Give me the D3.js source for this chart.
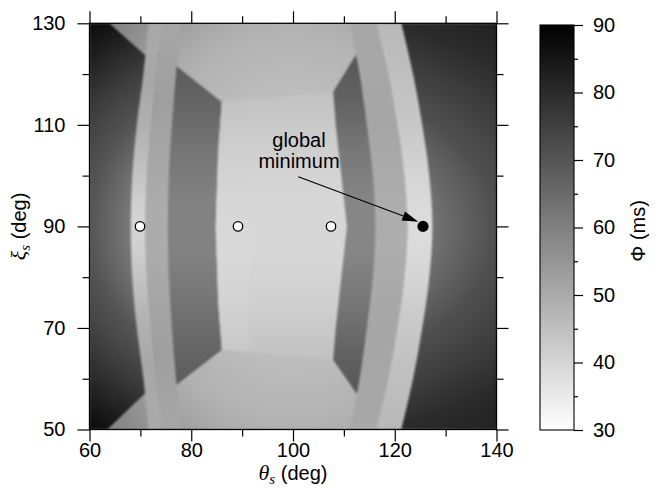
<!DOCTYPE html>
<html>
<head>
<meta charset="utf-8">
<title>Phi map</title>
<script src="https://cdnjs.cloudflare.com/ajax/libs/d3/7.8.5/d3.min.js"></script>
<style>
  body { margin: 0; background: #fff; }
  svg text { fill: #000; }
</style>
</head>
<body>
<svg id="chart" width="660" height="488"></svg>
<script>
// ---- ticks ----
const thetaTicks = [60, 80, 100, 120, 140];
const thetaMinor = [70, 90, 110, 130];
const xiTicks = [50, 70, 90, 110, 130];
const xiMinor = [60, 80, 100, 120];
const phiTicks = [30, 40, 50, 60, 70, 80, 90];
const phiMinor = [35, 45, 55, 65, 75, 85];

// ---- stationary points (theta, xi in deg) ----
const localMinTheta = [69.93, 89.19, 107.47];
const localMinXi = [90, 90, 90];
const globalMin = [125.55, 90];

// ---- band edges: theta (deg) sampled at bandXi ----
const bandXi     = [130, 120, 110, 100, 90, 80, 70, 60, 50];
const leftEdgeA  = [71.6, 70.6, 69.3, 68.4, 68.1, 68.4, 69.3, 70.6, 71.6];
const leftEdgeB  = [74.2, 73.2, 72.2, 71.3, 71.0, 71.3, 72.2, 73.2, 74.2];
const leftEdgeC  = [77.9, 77.0, 76.2, 75.6, 75.4, 75.6, 76.2, 77.0, 77.9];
const rightEdgeA = [111.2, 113.1, 114.5, 115.7, 116.2, 115.7, 114.5, 113.1, 111.2];
const rightEdgeB = [116.3, 118.7, 120.5, 121.9, 122.5, 121.9, 120.5, 118.7, 116.3];
const rightEdgeC = [121.3, 123.6, 125.4, 126.8, 127.4, 126.8, 125.4, 123.6, 121.3];

// ---- band Phi (ms) along xi ----
const leftLightXi  = [130, 118, 110, 105, 100, 95, 92, 88, 85, 80, 75, 70, 62, 50];
const leftLightPhi = [50, 50.5, 48.5, 46.5, 44, 41.6, 40.3, 40.3, 41.6, 44, 46.5, 48.5, 50.5, 50];
const leftMedXi    = [130, 115, 105, 95, 85, 75, 65, 50];
const leftMedPhi   = [51, 52.5, 51.2, 49.6, 49.6, 51.2, 52.5, 51];
const rightMedXi   = [130, 110, 100, 95, 85, 80, 70, 50];
const rightMedPhi  = [50.5, 51, 49.8, 49.2, 49.2, 49.8, 51, 50.5];
const rightLightXi  = [130, 120, 110, 105, 100, 95, 92, 88, 85, 80, 75, 70, 60, 50];
const rightLightPhi = [46.5, 45, 43, 41.5, 40, 38.7, 38.2, 38.2, 38.7, 40, 41.5, 43, 45, 46.5];

// ---- side pockets between bands and basin: Phi along xi ----
const leftMidXi   = [126, 115, 105, 95, 85, 75, 65, 54];
const leftMidPhi  = [70, 66.5, 62.5, 59.5, 59.5, 62.5, 66.5, 70];
const rightMidXi  = [127, 115, 105, 95, 85, 75, 65, 54];
const rightMidPhi = [71, 67, 62, 58.5, 58.5, 62, 67, 71];

// ---- central basin ----
const centralLeftXi     = [114.5, 105, 90, 75, 65.7];
const centralLeftTheta  = [86.0, 85.3, 84.8, 85.3, 86.0];
const centralRightXi    = [63.7, 70, 80, 90, 100, 110, 116.5];
const centralRightTheta = [107.9, 108.4, 109.5, 110.6, 109.5, 108.4, 107.9];
const centralXi  = [116.5, 110, 105, 100, 95, 85, 80, 75, 70, 63.7];
const centralPhi = [44.5, 42.5, 41.2, 40.2, 39.5, 39.5, 40.2, 41.2, 42.5, 44.5];
const seamTheta = 91.4;
const seamXi  = [115, 105, 95, 85, 75, 65.2];
const seamPhi = [44.4, 41.3, 39.4, 39.0, 40.3, 43];

// ---- other regions (theta, xi vertices) ----
const leftOuterPts = [[60, 130], [63.9, 130], [73, 121.9], [73, 59.1], [63.5, 50], [60, 50]];
const leftMidPts   = [[73, 124.8], [86.0, 114.5], [90, 111.3], [90, 68.8], [86.0, 65.7], [73, 55.6]];
const rightMidPts  = [[114, 126.4], [107.9, 116.5], [105.5, 112.6], [105.5, 67.2], [107.9, 63.7],
                      [114, 54.9], [114.8, 55], [115.9, 60], [117.5, 70], [118.8, 80], [119.3, 90],
                      [118.8, 100], [117.5, 110], [115.9, 120], [114.8, 125]];

// ---- radial shading: Phi vs normalised elliptical distance from (100, 90) ----
const baseR  = [0, 0.8, 1.0, 1.1, 1.45, 1.9];
const basePhi = [41, 46.5, 48.3, 49.8, 57.5, 64];
const leftOuterR   = [0.8, 1.0, 1.2, 1.6];
const leftOuterPhi = [61.5, 70, 75.5, 88];
const rightOuterR   = [0.68, 1.0, 1.25, 1.5, 1.75];
const rightOuterPhi = [63, 71.5, 75.5, 80, 82];

// ---- annotation ----
const noteLines = ["global", "minimum"];
const noteAt = [101.18, 105.54];
const arrowFrom = [101.04, 99.79];
const arrowTo = [124.63, 90.93];

const svg = d3.select("#chart");
const defs = svg.append("defs");
const font = "'Liberation Sans', Arial, Helvetica, sans-serif";

const x = d3.scaleLinear().domain([60, 140]).range([89.5, 496.5]);
const y = d3.scaleLinear().domain([50, 130]).range([429.5, 23.3]);
const cbY = d3.scaleLinear().domain([30, 90]).range([430, 25]);
const shade = d3.scaleLinear().domain([30, 90]).range(["#ffffff", "#000000"]);

function radial(id, c, rTh, rXi, rs, phis) {
    const rMax = d3.max(rs);
    const cx = x(c[0]), cy = y(c[1]);
    const rx = x(c[0] + rTh) - cx;
    const ry = cy - y(c[1] + rXi);
    const g = defs.append("radialGradient").attr("id", id)
        .attr("gradientUnits", "userSpaceOnUse")
        .attr("cx", cx).attr("cy", cy).attr("r", rx * rMax)
        .attr("gradientTransform", `translate(${cx},${cy}) scale(1,${ry / rx}) translate(${-cx},${-cy})`);
    rs.forEach((r, i) => g.append("stop").attr("offset", r / rMax).attr("stop-color", shade(phis[i])));
}
function vertical(id, xis, phis) {
    const g = defs.append("linearGradient").attr("id", id)
        .attr("gradientUnits", "userSpaceOnUse")
        .attr("x1", 0).attr("x2", 0).attr("y1", y(130)).attr("y2", y(50));
    xis.forEach((v, i) => g.append("stop")
        .attr("offset", (y(v) - y(130)) / (y(50) - y(130)))
        .attr("stop-color", shade(phis[i])));
}

radial("gBase", [100, 90], 30, 40, baseR, basePhi);
radial("gLeftOuter", [100, 90], 40, 32, leftOuterR, leftOuterPhi);
radial("gRightOuter", [100, 90], 40, 28, rightOuterR, rightOuterPhi);
vertical("gLeftMid", leftMidXi, leftMidPhi);
vertical("gRightMid", rightMidXi, rightMidPhi);
vertical("gLeftLight", leftLightXi, leftLightPhi);
vertical("gLeftMed", leftMedXi, leftMedPhi);
vertical("gRightMed", rightMedXi, rightMedPhi);
vertical("gRightLight", rightLightXi, rightLightPhi);
vertical("gCentral", centralXi, centralPhi);
vertical("gSeam", seamXi, seamPhi);

// soft edges like the rendered image
const f = defs.append("filter").attr("id", "soft")
    .attr("filterUnits", "userSpaceOnUse")
    .attr("color-interpolation-filters", "sRGB")
    .attr("x", 60).attr("y", 0).attr("width", 470).attr("height", 460);
f.append("feGaussianBlur").attr("stdDeviation", 1.1);
f.append("feComponentTransfer").append("feFuncA").attr("type", "linear").attr("slope", 20).attr("intercept", 0);

defs.append("clipPath").attr("id", "plotClip").append("rect")
    .attr("x", x(60)).attr("y", y(130))
    .attr("width", x(140) - x(60)).attr("height", y(50) - y(130));

const line = d3.line().x(p => x(p[0])).y(p => y(p[1]));
const poly = pts => line(pts) + "Z";
const band = (lo, hi) => d3.area().curve(d3.curveCatmullRom)
    .y((d, i) => y(bandXi[i]))
    .x0((d, i) => typeof lo === "function" ? lo(i) : x(lo[i]))
    .x1((d, i) => typeof hi === "function" ? hi(i) : x(hi[i]))(bandXi);

const centralPts = centralLeftXi.map((v, i) => [centralLeftTheta[i], v])
    .concat(centralRightXi.map((v, i) => [centralRightTheta[i], v]));
const seamPts = centralLeftXi.map((v, i) => [centralLeftTheta[i], v])
    .concat([[seamTheta, seamXi[seamXi.length - 1]], [seamTheta, seamXi[0]]]);

const heat = svg.append("g").attr("clip-path", "url(#plotClip)")
    .append("g").attr("filter", "url(#soft)");

heat.append("rect")
    .attr("x", x(60) - 3).attr("y", y(130) - 3)
    .attr("width", x(140) - x(60) + 6).attr("height", y(50) - y(130) + 6)
    .attr("fill", "url(#gBase)");

const layers = [
    [poly(leftOuterPts), "gLeftOuter"],
    [band(rightEdgeB, () => x(140) + 3), "gRightOuter"],
    [poly(leftMidPts), "gLeftMid"],
    [poly(rightMidPts), "gRightMid"],
    [band(leftEdgeA, leftEdgeB), "gLeftLight"],
    [band(leftEdgeB, leftEdgeC), "gLeftMed"],
    [band(rightEdgeA, rightEdgeB), "gRightMed"],
    [band(rightEdgeB, rightEdgeC), "gRightLight"],
    [poly(centralPts), "gCentral"],
    [poly(seamPts), "gSeam"]
];
heat.selectAll("path.layer").data(layers).join("path")
    .attr("class", "layer")
    .attr("d", d => d[0])
    .attr("fill", d => `url(#${d[1]})`);

// ---- minima ----
svg.append("g").selectAll("circle").data(localMinTheta).join("circle")
    .attr("cx", d => x(d)).attr("cy", (d, i) => y(localMinXi[i]))
    .attr("r", 4.7).attr("fill", "#fff").attr("stroke", "#000").attr("stroke-width", 1.3);
svg.append("circle").attr("cx", x(globalMin[0])).attr("cy", y(globalMin[1]))
    .attr("r", 5.6).attr("fill", "#000");

// ---- annotation ----
const note = svg.append("text")
    .attr("x", x(noteAt[0])).attr("y", y(noteAt[1]))
    .attr("text-anchor", "middle").attr("font-family", font).attr("font-size", 20);
noteLines.forEach((t, i) => note.append("tspan")
    .attr("x", x(noteAt[0])).attr("dy", i ? "1.02em" : 0).text(t));

const ax0 = x(arrowFrom[0]), ay0 = y(arrowFrom[1]);
const ax1 = x(arrowTo[0]), ay1 = y(arrowTo[1]);
const ang = Math.atan2(ay1 - ay0, ax1 - ax0);
const headLen = 16, headHalf = 4.8;
const bx = ax1 - headLen * Math.cos(ang), by = ay1 - headLen * Math.sin(ang);
svg.append("line").attr("x1", ax0).attr("y1", ay0).attr("x2", bx).attr("y2", by)
    .attr("stroke", "#000").attr("stroke-width", 1.2);
svg.append("path")
    .attr("d", `M${ax1},${ay1}L${bx - headHalf * Math.sin(ang)},${by + headHalf * Math.cos(ang)}` +
               `L${bx + headHalf * Math.sin(ang)},${by - headHalf * Math.cos(ang)}Z`)
    .attr("fill", "#000");

// ---- axes ----
function styleAxis(g) {
    g.select(".domain").remove();
    g.attr("font-family", font).attr("font-size", 20);
    g.selectAll("line").attr("stroke", "#000").attr("stroke-width", 1.2);
    g.selectAll("text").attr("fill", "#000");
}
const x0 = x.range()[0], x1 = x.range()[1], yb = y.range()[0], yt = y.range()[1];

svg.append("g").attr("transform", `translate(0,${yb})`)
    .call(d3.axisBottom(x).tickValues(thetaTicks).tickSize(12).tickPadding(1.5)).call(styleAxis);
svg.append("g").attr("transform", `translate(0,${yb})`)
    .call(d3.axisBottom(x).tickValues(thetaMinor).tickSize(7).tickFormat("")).call(styleAxis);
svg.append("g").attr("transform", `translate(0,${yt})`)
    .call(d3.axisTop(x).tickValues(thetaTicks).tickSize(12).tickFormat("")).call(styleAxis);
svg.append("g").attr("transform", `translate(0,${yt})`)
    .call(d3.axisTop(x).tickValues(thetaMinor).tickSize(7).tickFormat("")).call(styleAxis);
svg.append("g").attr("transform", `translate(${x0},0)`)
    .call(d3.axisLeft(y).tickValues(xiTicks).tickSize(12).tickPadding(12)).call(styleAxis);
svg.append("g").attr("transform", `translate(${x0},0)`)
    .call(d3.axisLeft(y).tickValues(xiMinor).tickSize(7).tickFormat("")).call(styleAxis);
svg.append("g").attr("transform", `translate(${x1},0)`)
    .call(d3.axisRight(y).tickValues(xiTicks).tickSize(12).tickFormat("")).call(styleAxis);
svg.append("g").attr("transform", `translate(${x1},0)`)
    .call(d3.axisRight(y).tickValues(xiMinor).tickSize(7).tickFormat("")).call(styleAxis);

svg.append("rect").attr("x", x0).attr("y", yt).attr("width", x1 - x0).attr("height", yb - yt)
    .attr("fill", "none").attr("stroke", "#000").attr("stroke-width", 1.3);

// axis titles
const xt = svg.append("text").attr("x", x(100)).attr("y", 480)
    .attr("text-anchor", "middle").attr("font-family", font).attr("font-size", 20);
xt.append("tspan").attr("font-family", "'Liberation Serif', serif").attr("font-style", "italic")
    .attr("font-size", 22).text("θ");
xt.append("tspan").attr("font-family", "'Liberation Serif', serif").attr("font-style", "italic")
    .attr("font-size", 15).attr("dy", 4).text("s");
xt.append("tspan").attr("dy", -4).text(" (deg)");

const yTitle = svg.append("text")
    .attr("transform", `translate(26,${y(90)}) rotate(-90)`)
    .attr("text-anchor", "middle").attr("font-family", font).attr("font-size", 20);
yTitle.append("tspan").attr("font-family", "'Liberation Serif', serif").attr("font-style", "italic")
    .attr("font-size", 22).text("ξ");
yTitle.append("tspan").attr("font-family", "'Liberation Serif', serif").attr("font-style", "italic")
    .attr("font-size", 15).attr("dy", 4).text("s");
yTitle.append("tspan").attr("dy", -4).text(" (deg)");

// ---- colour bar ----
const cbX = 540, cbW = 34;
const cg = defs.append("linearGradient").attr("id", "gBar")
    .attr("x1", 0).attr("x2", 0).attr("y1", 1).attr("y2", 0);
phiTicks.forEach((v, i) => cg.append("stop")
    .attr("offset", i / (phiTicks.length - 1)).attr("stop-color", shade(v)));
svg.append("rect").attr("x", cbX).attr("y", cbY.range()[1])
    .attr("width", cbW).attr("height", cbY.range()[0] - cbY.range()[1])
    .attr("fill", "url(#gBar)").attr("stroke", "#000").attr("stroke-width", 1.1);
svg.append("g").attr("transform", `translate(${cbX + cbW},0)`)
    .call(d3.axisRight(cbY).tickValues(phiTicks).tickSize(9).tickPadding(10)).call(styleAxis);
svg.append("g").attr("transform", `translate(${cbX + cbW},0)`)
    .call(d3.axisRight(cbY).tickValues(phiMinor).tickSize(4).tickFormat("")).call(styleAxis);
svg.append("text")
    .attr("transform", `translate(645,${cbY(59.5)}) rotate(-90)`)
    .attr("text-anchor", "middle").attr("font-family", font).attr("font-size", 20)
    .text("Φ (ms)");
</script>
</body>
</html>
